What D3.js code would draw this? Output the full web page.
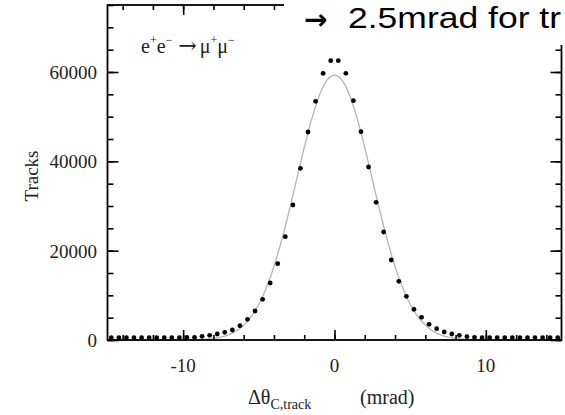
<!DOCTYPE html>
<html><head><meta charset="utf-8">
<script src="https://cdn.jsdelivr.net/npm/d3@7"></script>
<style>html,body{margin:0;padding:0;background:#fff;}svg{display:block;}</style>
</head><body>
<svg id="c" width="565" height="415"></svg>
<script>
// bin centres (mrad)
const binCenters = d3.range(-14.75, 15, 0.5);
// track counts per bin
const trackCounts = [
  200, 220, 240, 260, 280, 300, 330, 360, 400, 450,
  560, 604, 828, 1052, 1343, 1724, 2239, 3201, 4634, 6492,
  9111, 12760, 17081, 23125, 30222, 38437, 46564, 53437, 59705, 62526,
  62526, 59705, 53571, 46631, 38729, 30826, 24177, 17909, 13141, 9783,
  6873, 5082, 3515, 2530, 1791, 1343, 1052, 739, 604, 515,
  450, 400, 360, 330, 300, 280, 260, 240, 220, 200
];
const fitAmplitude = 59300;
const fitSigma = 2.5;
const xMajorTicks = [-10, 0, 10];
const yMajorTicks = [0, 20000, 40000, 60000];
const xMinorTicks = d3.range(-14, 15, 2);
const yMinorTicks = d3.range(0, 75001, 5000);

const svg = d3.select("#c");
const L = 107.5, R = 561.5, T = 5, B = 340;
const x = d3.scaleLinear().domain([-15, 15]).range([L, R]);
const y = d3.scaleLinear().domain([0, 75000]).range([B, T]);

// fit curve
const fitPts = d3.range(-15, 15.001, 0.05).map(u => [u, fitAmplitude * Math.exp(-u*u/(2*fitSigma*fitSigma))]);
svg.append("path").datum(fitPts)
  .attr("d", d3.line().x(d => x(d[0])).y(d => y(d[1])))
  .attr("fill", "none").attr("stroke", "#b4b4b4").attr("stroke-width", 1.3);

// axes (ticks inward)
const g = svg.append("g").attr("stroke", "#000");
function axis(sel, ax, ticks, len, pos) {
  const a = sel.append("g").attr("transform", pos).call(ax.tickValues(ticks).tickSize(len).tickFormat(""));
  a.select(".domain").remove();
  a.selectAll("line").attr("stroke", "#000").attr("stroke-width", 1.6);
  return a;
}
axis(g, d3.axisTop(x), xMinorTicks, 5, `translate(0,${B})`);
axis(g, d3.axisTop(x), xMajorTicks, 10, `translate(0,${B})`);
axis(g, d3.axisBottom(x), xMinorTicks, 5, `translate(0,${T})`);
axis(g, d3.axisBottom(x), xMajorTicks, 10, `translate(0,${T})`);
axis(g, d3.axisRight(y), yMinorTicks, 6, `translate(${L},0)`);
axis(g, d3.axisRight(y), yMajorTicks, 11, `translate(${L},0)`);
axis(g, d3.axisLeft(y), yMinorTicks, 6, `translate(${R},0)`);
axis(g, d3.axisLeft(y), yMajorTicks, 11, `translate(${R},0)`);
svg.append("rect").attr("x", L).attr("y", T).attr("width", R - L).attr("height", B - T)
  .attr("fill", "none").attr("stroke", "#000").attr("stroke-width", 1.8);

// points
svg.append("g").selectAll("circle").data(binCenters.map((u, i) => [u, trackCounts[i]])).join("circle")
  .attr("cx", d => x(d[0])).attr("cy", d => Math.min(y(d[1]), B - 2.3)).attr("r", 2.4).attr("fill", "#000");

const serif = "'Liberation Serif','Times New Roman',serif";
svg.append("g").selectAll("text").data(xMajorTicks).join("text")
  .attr("x", d => x(d)).attr("y", 372).attr("text-anchor", "middle")
  .attr("font-family", serif).attr("font-size", 19).attr("fill", "#222").text(d => d);
svg.append("g").selectAll("text").data(yMajorTicks).join("text")
  .attr("x", 97).attr("y", d => y(d) + 7).attr("text-anchor", "end")
  .attr("font-family", serif).attr("font-size", 19).attr("fill", "#222").text(d => d);

svg.append("text").attr("transform", "translate(38,176) rotate(-90)").attr("text-anchor", "middle")
  .attr("font-family", serif).attr("font-size", 19).attr("fill", "#222").text("Tracks");
const xt = svg.append("text").attr("x", 248).attr("y", 404)
  .attr("font-family", serif).attr("font-size", 20).attr("fill", "#222");
xt.append("tspan").text("Δθ");
xt.append("tspan").attr("font-size", 14).attr("dy", 5).text("C,track");
svg.append("text").attr("x", 360).attr("y", 404)
  .attr("font-family", serif).attr("font-size", 20).attr("fill", "#222").text("(mrad)");

// process label e+e- -> mu+mu-
const pl = svg.append("text").attr("x", 141).attr("y", 53)
  .attr("font-family", serif).attr("font-size", 20).attr("fill", "#222");
pl.append("tspan").text("e");
pl.append("tspan").attr("font-size", 12).attr("dy", -9).text("+");
pl.append("tspan").attr("dy", 9).text("e");
pl.append("tspan").attr("font-size", 12).attr("dy", -9).text("−");
pl.append("tspan").attr("dy", 9).attr("dx", 6).attr("font-family", "'DejaVu Serif',serif").attr("font-size", 22).text("→");
pl.append("tspan").attr("dx", 3).text("μ");
pl.append("tspan").attr("font-size", 12).attr("dy", -9).text("+");
pl.append("tspan").attr("dy", 9).text("μ");
pl.append("tspan").attr("font-size", 12).attr("dy", -9).text("−");

// overlaid slide text
svg.append("rect").attr("x", 284).attr("y", 0).attr("width", 281).attr("height", 45).attr("fill", "#fff");
svg.append("text").attr("x", 304).attr("y", 29)
  .attr("font-family", "'DejaVu Sans',sans-serif").attr("font-size", 28).attr("font-weight", "bold")
  .attr("fill", "#000").text("→");
svg.append("text").attr("x", 348).attr("y", 28)
  .attr("font-family", "'Liberation Sans',Arial,sans-serif").attr("font-size", 29).attr("fill", "#000")
  .attr("textLength", 213).attr("lengthAdjust", "spacingAndGlyphs").text("2.5mrad for tr");
</script>
</body></html>
